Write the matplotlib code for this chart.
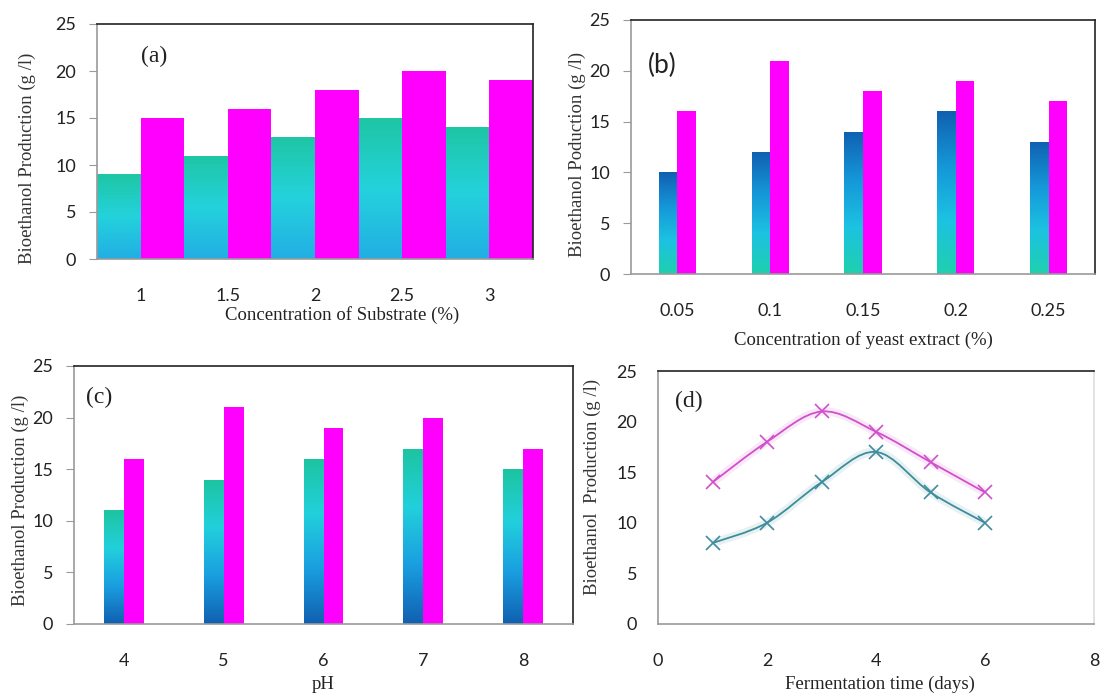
import numpy as np
import matplotlib
matplotlib.use("Agg")
import matplotlib.pyplot as plt
from matplotlib.colors import LinearSegmentedColormap
from matplotlib.path import Path
from matplotlib.patches import PathPatch

# ---- data ----
substrate = ["1", "1.5", "2", "2.5", "3"]
substrate_teal = [9, 11, 13, 15, 14]
substrate_pink = [15, 16, 18, 20, 19]

yeast = ["0.05", "0.1", "0.15", "0.2", "0.25"]
yeast_teal = [10, 12, 14, 16, 13]
yeast_pink = [16, 21, 18, 19, 17]

ph = ["4", "5", "6", "7", "8"]
ph_teal = [11, 14, 16, 17, 15]
ph_pink = [16, 21, 19, 20, 17]

days = [1, 2, 3, 4, 5, 6]
days_pink = [14, 18, 21, 19, 16, 13]
days_teal = [8, 10, 14, 17, 13, 10]

SERIF = "Liberation Serif"
SANS = "Lato"
MAGENTA = "#ff00ff"

# gradients, bottom -> top
cmap_a = LinearSegmentedColormap.from_list("a", ["#22aee4", "#24d2dc", "#1ec6a4"])
cmap_b = LinearSegmentedColormap.from_list("b", ["#1fd0ae", "#1cc2e2", "#1596d8", "#1060b0"])
cmap_c = LinearSegmentedColormap.from_list("c", ["#1060b0", "#1a9ee0", "#22d0dc", "#1dc4a0"])

W, H = 1102, 694
fig = plt.figure(figsize=(W / 100, H / 100), dpi=100)


def add_axes(left, right, top, bottom):
    return fig.add_axes([left / W, 1 - bottom / H, (right - left) / W, (bottom - top) / H])


def style(ax, ylabel, ylab_xy, xlabel, xlab_xy, ytick_len=6):
    ax.set_ylim(0, 25)
    ax.set_yticks(range(0, 26, 5))
    for s in ("top", "right"):
        ax.spines[s].set_color("#222222")
        ax.spines[s].set_linewidth(1.2)
    for s in ("left", "bottom"):
        ax.spines[s].set_color("#9a9a9a")
        ax.spines[s].set_linewidth(1.2)
    ax.tick_params(axis="y", length=ytick_len, color="#9a9a9a", pad=15 - ytick_len,
                   labelsize=13, labelcolor="#222222")
    ax.tick_params(axis="x", length=0, pad=21, labelsize=13, labelcolor="#222222")
    for t in ax.get_xticklabels() + ax.get_yticklabels():
        t.set_fontfamily(SANS)
    ax.set_ylabel(ylabel, fontfamily=SERIF, fontsize=13.5, color="#333333")
    ax.yaxis.set_label_coords(*ylab_xy)
    ax.set_xlabel(xlabel, fontfamily=SERIF, fontsize=13.5, color="#222222")
    ax.xaxis.set_label_coords(*xlab_xy)


def grad_bars(ax, pos, heights, width, cmap):
    bars = ax.bar(pos, heights, width, color="none", linewidth=0, zorder=2)
    grad = np.linspace(0, 1, 256).reshape(-1, 1)
    for b in bars:
        x0, y0 = b.get_xy()
        im = ax.imshow(grad, cmap=cmap, origin="lower", aspect="auto", zorder=2,
                       extent=(x0, x0 + b.get_width(), y0, y0 + b.get_height()))
        im.set_clip_path(b)


def bar_panel(ax, cats, teal, pink, width, cmap):
    x = np.arange(len(cats))
    grad_bars(ax, x - width / 2, teal, width, cmap)
    ax.bar(x + width / 2, pink, width, color=MAGENTA, linewidth=0, zorder=2)
    ax.set_xticks(x)
    ax.set_xticklabels(cats)
    ax.set_xlim(-0.5, len(cats) - 0.5)
    ax.set_aspect("auto")


def smooth_path(xs, ys):
    p = np.column_stack([xs, ys]).astype(float)
    ext = np.vstack([p[0], p, p[-1]])
    verts = [p[0]]
    codes = [Path.MOVETO]
    for i in range(len(p) - 1):
        c1 = ext[i + 1] + (ext[i + 2] - ext[i]) / 6
        c2 = ext[i + 2] - (ext[i + 3] - ext[i + 1]) / 6
        verts += [c1, c2, ext[i + 2]]
        codes += [Path.CURVE4] * 3
    return Path(verts, codes)


# (a) substrate
ax_a = add_axes(97, 533, 24, 259)
bar_panel(ax_a, substrate, substrate_teal, substrate_pink, 0.5, cmap_a)
style(ax_a, "Bioethanol Production (g /l)", (-0.14, 0.43),
      "Concentration of Substrate (%)", (0.562, -0.2))
ax_a.text(0.13, 0.86, "(a)", transform=ax_a.transAxes, fontfamily=SERIF, fontsize=17,
          ha="center", va="center", color="#222222")

# (b) yeast extract
ax_b = add_axes(631, 1095, 20, 274)
bar_panel(ax_b, yeast, yeast_teal, yeast_pink, 0.2, cmap_b)
style(ax_b, "Bioethanol Poduction (g /l)", (-0.097, 0.47),
      "Concentration of yeast extract (%)", (0.502, -0.225))
ax_b.text(0.068, 0.82, "(b)", transform=ax_b.transAxes, fontfamily=SANS, fontsize=19,
          ha="center", va="center", color="#222222")

# (c) pH
ax_c = add_axes(74, 573, 366, 624)
bar_panel(ax_c, ph, ph_teal, ph_pink, 0.2, cmap_c)
style(ax_c, "Bioethanol Production (g /l)", (-0.09, 0.48), "pH", (0.499, -0.2))
ax_c.text(0.05, 0.88, "(c)", transform=ax_c.transAxes, fontfamily=SERIF, fontsize=17,
          ha="center", va="center", color="#222222")

# (d) fermentation time
ax_d = add_axes(658, 1094, 371, 624)
for ys, col in ((days_pink, "#d24fcc"), (days_teal, "#3f8c9c")):
    ax_d.add_patch(PathPatch(smooth_path(days, ys), facecolor="none", edgecolor=col,
                             lw=6, alpha=0.12, zorder=2))
    ax_d.add_patch(PathPatch(smooth_path(days, ys), facecolor="none", edgecolor=col,
                             lw=1.3, zorder=3))
    ax_d.plot(days, ys, linestyle="none", marker="x", markersize=10, mew=1.2,
              color=col, zorder=4)
ax_d.set_xlim(0, 8)
ax_d.set_xticks([0, 2, 4, 6, 8])
style(ax_d, "Bioethanol  Production (g /l)", (-0.13, 0.54),
      "Fermentation time (days)", (0.51, -0.205), ytick_len=0)
ax_d.spines["right"].set_color("#dddddd")
ax_d.text(0.07, 0.88, "(d)", transform=ax_d.transAxes, fontfamily=SERIF, fontsize=17,
          ha="center", va="center", color="#222222")

fig.savefig("out.png", dpi=100)
